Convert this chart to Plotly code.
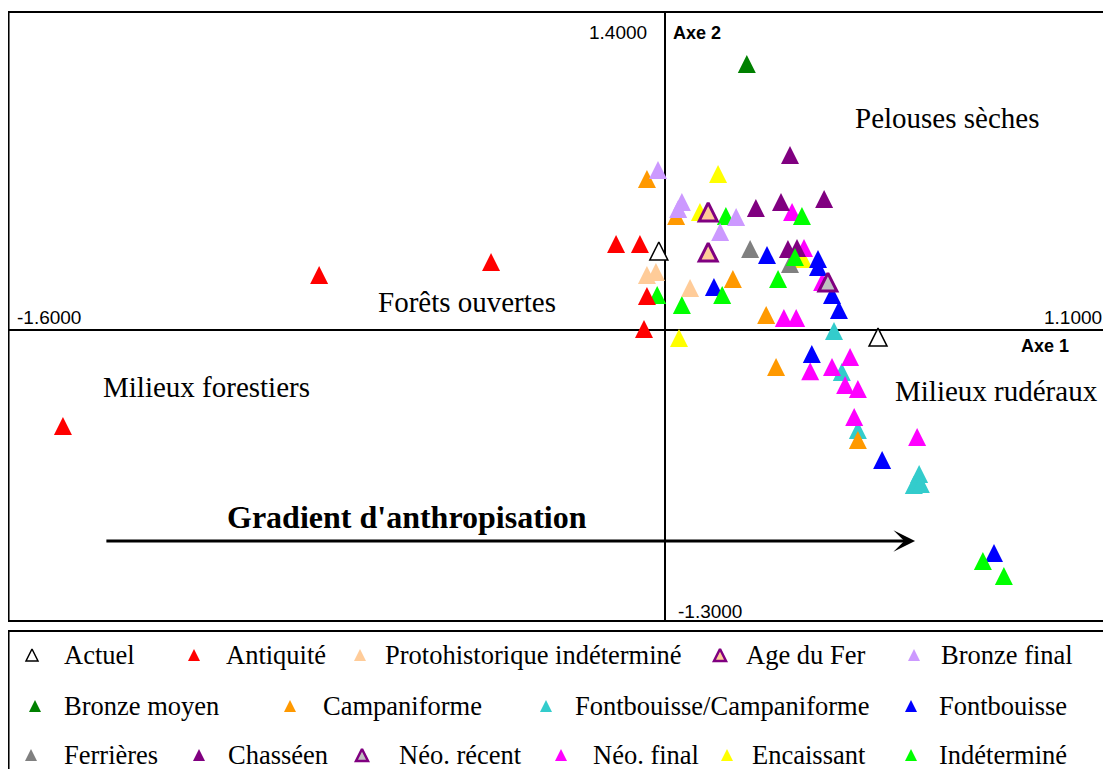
"""AFC des assemblages : plan des axes 1 et 2, gradient d'anthropisation."""

import plotly.graph_objects as go

# la page ajoute une marge de 8 px autour du graphique : on travaille en pixels d'écran
OFF = 8
W, H = 1111 - OFF, 769 - OFF

# coordonnées des échantillons (axe 1, axe 2), par période
actuel_x = [-0.015, 0.518]
actuel_y = [0.348, -0.031]
antiquite_x = [-1.464, -0.841, -0.423, -0.119, -0.061, -0.044, -0.051]
antiquite_y = [-0.423, 0.242, 0.299, 0.379, 0.379, 0.150, 0.004]
proto_x = [-0.044, -0.022, 0.061]
proto_y = [0.242, 0.255, 0.185]
fer_x = [0.105, 0.105]
fer_y = [0.520, 0.343]
bronze_final_x = [-0.017, 0.041, 0.032, 0.173, 0.134]
bronze_final_y = [0.704, 0.564, 0.533, 0.497, 0.431]
bronze_moyen_x = [0.199]
bronze_moyen_y = [1.171]
campani_x = [-0.044, 0.027, 0.165, 0.246, 0.270, 0.469]
campani_y = [0.665, 0.502, 0.225, 0.066, -0.163, -0.484]
font_camp_x = [0.411, 0.430, 0.469, 0.618, 0.605, 0.622]
font_camp_y = [-0.004, -0.185, -0.440, -0.634, -0.682, -0.678]
fontbouisse_x = [0.248, 0.119, 0.372, 0.372, 0.406, 0.423, 0.357, 0.528, 0.800]
fontbouisse_y = [0.330, 0.189, 0.313, 0.277, 0.154, 0.088, -0.106, -0.572, -0.982]
ferrieres_x = [0.207, 0.304]
ferrieres_y = [0.357, 0.291]
chasseen_x = [0.304, 0.221, 0.282, 0.387, 0.299, 0.321]
chasseen_y = [0.770, 0.537, 0.564, 0.577, 0.357, 0.361]
neo_recent_x = [0.396]
neo_recent_y = [0.211]
neo_final_x = [0.309, 0.338, 0.289, 0.319, 0.382, 0.450, 0.406, 0.353, 0.438, 0.469, 0.460, 0.613]
neo_final_y = [0.520, 0.361, 0.053, 0.053, 0.211, -0.119, -0.163, -0.181, -0.242, -0.260, -0.383, -0.471]
encaissant_x = [0.129, 0.085, 0.034, 0.336]
encaissant_y = [0.687, 0.520, -0.035, 0.313]
indet_x = [0.148, 0.333, 0.275, 0.139, 0.041, -0.019, 0.316, 0.773, 0.824]
indet_y = [0.502, 0.502, 0.225, 0.154, 0.110, 0.154, 0.321, -1.017, -1.083]

# nom -> x, y, remplissage, contour, épaisseur du contour
series = {
    "Actuel": (actuel_x, actuel_y, "white", "black", 1.5),
    "Antiquité": (antiquite_x, antiquite_y, "#FF0000", "#FF0000", 0),
    "Protohistorique indéterminé": (proto_x, proto_y, "#FFCC99", "#FFCC99", 0),
    "Age du Fer": (fer_x, fer_y, "#FFCC99", "#800080", 3),
    "Bronze final": (bronze_final_x, bronze_final_y, "#CC99FF", "#CC99FF", 0),
    "Bronze moyen": (bronze_moyen_x, bronze_moyen_y, "#008000", "#008000", 0),
    "Campaniforme": (campani_x, campani_y, "#FF9900", "#FF9900", 0),
    "Fontbouisse/Campaniforme": (font_camp_x, font_camp_y, "#33CCCC", "#33CCCC", 0),
    "Fontbouisse": (fontbouisse_x, fontbouisse_y, "#0000FF", "#0000FF", 0),
    "Ferrières": (ferrieres_x, ferrieres_y, "#808080", "#808080", 0),
    "Chasséen": (chasseen_x, chasseen_y, "#800080", "#800080", 0),
    "Néo. récent": (neo_recent_x, neo_recent_y, "#C0C0C0", "#800080", 3),
    "Néo. final": (neo_final_x, neo_final_y, "#FF00FF", "#FF00FF", 0),
    "Encaissant": (encaissant_x, encaissant_y, "#FFFF00", "#FFFF00", 0),
    "Indéterminé": (indet_x, indet_y, "#00FF00", "#00FF00", 0),
}

# ordre de superposition des symboles
draw_order = ["Encaissant", "Fontbouisse/Campaniforme", "Campaniforme", "Néo. final", "Fontbouisse",
              "Ferrières", "Chasséen", "Indéterminé", "Protohistorique indéterminé", "Antiquité",
              "Bronze final", "Bronze moyen", "Age du Fer", "Néo. récent", "Actuel"]

# légende : (nom, x du symbole, x du texte, ligne) en pixels d'écran
legend_rows_y = [655, 706, 755]
legend_items = [
    ("Actuel", 32, 62, 0), ("Antiquité", 194, 224, 0), ("Protohistorique indéterminé", 360, 383, 0),
    ("Age du Fer", 720, 744, 0), ("Bronze final", 914, 939, 0),
    ("Bronze moyen", 35, 62, 1), ("Campaniforme", 290, 321, 1),
    ("Fontbouisse/Campaniforme", 546, 573, 1), ("Fontbouisse", 911, 937, 1),
    ("Ferrières", 31, 62, 2), ("Chasséen", 199, 226, 2), ("Néo. récent", 362, 397, 2),
    ("Néo. final", 561, 591, 2), ("Encaissant", 727, 750, 2), ("Indéterminé", 911, 937, 2),
]

SERIF = "Liberation Serif, Times New Roman, serif"
SANS = "Liberation Sans, Arial, sans-serif"

# cadre du graphique (pixels d'écran) et origine des axes
FRAME_TOP, FRAME_BOTTOM, ORIGIN_X = 12, 621, 665
X_UNIT = 411.25  # px par unité sur l'axe 1
Y_RANGE = [-1.281, 1.4]
Y_UNIT = (FRAME_BOTTOM - FRAME_TOP) / (Y_RANGE[1] - Y_RANGE[0])
MARK, LEGEND_MARK = 18, 12
# le symbole "arrow-up" a sa pointe sur le point : l'axe des symboles est décalé d'une demi-hauteur
SHIFT = MARK / 2 / Y_UNIT


def px(x):
    return (x - OFF) / W


def py(y):
    return 1 - (y - OFF) / H


def triangle(size, fill, edge, lw):
    # triangle aussi haut que large
    return {"symbol": "arrow-up", "size": size, "color": fill, "line": {"color": edge, "width": lw}}


fig = go.Figure()
for name in draw_order:
    xs, ys, fill, edge, lw = series[name]
    fig.add_trace(go.Scatter(x=xs, y=ys, yaxis="y3", mode="markers", name=name, showlegend=False,
                             marker=triangle(MARK, fill, edge, lw)))

annotations = []
for name, mx, tx, row in legend_items:
    _, _, fill, edge, lw = series[name]
    fig.add_trace(go.Scatter(x=[mx], y=[legend_rows_y[row] - LEGEND_MARK / 2], xaxis="x2", yaxis="y2",
                             mode="markers", showlegend=False, hoverinfo="skip",
                             marker=triangle(LEGEND_MARK, fill, edge, min(lw, 2.5))))
    annotations.append(dict(x=tx, y=legend_rows_y[row], xref="x2", yref="y2", text=name, showarrow=False,
                            xanchor="left", yanchor="middle", font={"family": SERIF, "size": 26.5, "color": "black"}))

# étiquettes des milieux
for text, x, y in [("Pelouses sèches", 0.686, 0.933), ("Forêts ouvertes", -0.481, 0.123),
                   ("Milieux forestiers", -1.116, -0.251), ("Milieux rudéraux", 0.805, -0.269)]:
    annotations.append(dict(x=x, y=y, xref="x", yref="y", text=text, showarrow=False,
                            font={"family": SERIF, "size": 29, "color": "black"}))
annotations.append(dict(x=-0.627, y=-0.823, xref="x", yref="y", text="<b>Gradient d'anthropisation</b>",
                        showarrow=False, font={"family": SERIF, "size": 32, "color": "black"}))
annotations.append(dict(x=0.608, y=-0.929, xref="x", yref="y", ax=-1.362, ay=-0.929, axref="x", ayref="y",
                        text="", showarrow=True, arrowhead=3, arrowsize=1.2, arrowwidth=3, arrowcolor="black"))

# bornes et noms des axes
for text, x, y, anchor in [("1.4000", 649, 33, "right"), ("-1.6000", 15, 318, "left"),
                           ("1.1000", 1104, 318, "right"), ("-1.3000", 676, 611, "left")]:
    annotations.append(dict(x=px(x), y=py(y), xref="paper", yref="paper", text=text, showarrow=False,
                            xanchor=anchor, yanchor="middle", font={"family": SANS, "size": 19, "color": "black"}))
for text, x, y in [("Axe 2", 671, 33), ("Axe 1", 1019, 346)]:
    annotations.append(dict(x=px(x), y=py(y), xref="paper", yref="paper", text=f"<b>{text}</b>",
                            showarrow=False, xanchor="left", yanchor="middle",
                            font={"family": SANS, "size": 18, "color": "black"}))

x_left = (OFF - ORIGIN_X) / X_UNIT
x_right = (OFF + W - ORIGIN_X) / X_UNIT

fig.update_layout(
    width=W, height=H, margin={"l": 0, "r": 0, "t": 0, "b": 0},
    paper_bgcolor="white", plot_bgcolor="white", showlegend=False,
    xaxis={"domain": [0, 1], "range": [x_left, x_right], "showgrid": False, "showticklabels": False,
           "zeroline": True, "zerolinecolor": "black", "zerolinewidth": 2, "ticks": ""},
    yaxis={"domain": [py(FRAME_BOTTOM), py(FRAME_TOP)], "range": Y_RANGE, "showgrid": False,
           "showticklabels": False, "zeroline": True, "zerolinecolor": "black", "zerolinewidth": 2, "ticks": ""},
    yaxis3={"overlaying": "y", "range": [Y_RANGE[0] - SHIFT, Y_RANGE[1] - SHIFT], "visible": False,
            "anchor": "x"},
    xaxis2={"domain": [0, 1], "range": [OFF, OFF + W], "visible": False, "anchor": "y2"},
    yaxis2={"domain": [0, py(FRAME_BOTTOM)], "range": [OFF + H, FRAME_BOTTOM], "visible": False, "anchor": "x2"},
    annotations=annotations,
    shapes=[
        dict(type="rect", xref="paper", yref="paper", x0=0.0005, x1=1.01, y0=py(FRAME_BOTTOM), y1=py(FRAME_TOP),
             line={"color": "black", "width": 2}),
        dict(type="rect", xref="paper", yref="paper", x0=0.0005, x1=1.01, y0=-0.02, y1=py(631),
             line={"color": "black", "width": 2}),
    ],
)

fig.write_html("out.html")
